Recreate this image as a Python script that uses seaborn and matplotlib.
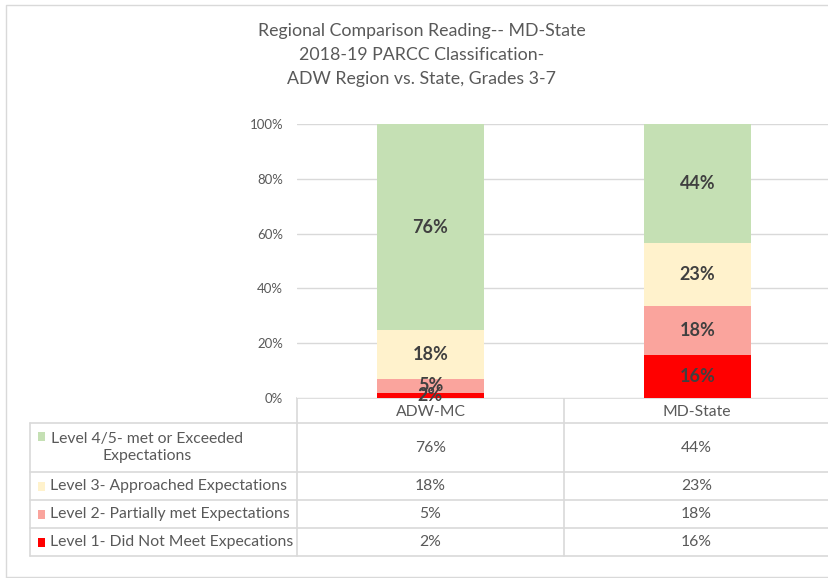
import numpy as np
import pandas as pd
import matplotlib
matplotlib.use("Agg")
import matplotlib.pyplot as plt
import seaborn as sns

# ---- data ----
categories = ["ADW-MC", "MD-State"]
levels = ["Level 4/5- met or Exceeded\nExpectations",
          "Level 3- Approached Expectations",
          "Level 2- Partially met Expectations",
          "Level 1- Did Not Meet Expecations"]
level45 = [76, 44]
level3 = [18, 23]
level2 = [5, 18]
level1 = [2, 16]
colors = ["#C5E0B4", "#FFF2CC", "#FAA49D", "#FF0000"]
title = "Regional Comparison Reading-- MD-State\n2018-19 PARCC Classification-\nADW Region vs. State, Grades 3-7"

sns.set_theme(style="white")
plt.rcParams['font.family'] = ['Lato', 'DejaVu Sans']

W, H = 829, 578
fig = plt.figure(figsize=(W / 100, H / 100), dpi=100)

# stacking (bottom to top: level1, level2, level3, level4/5), normalised to 100%
series_bottom_up = [level1, level2, level3, level45]
colors_bottom_up = colors[::-1]
vals = np.array(series_bottom_up, dtype=float)
totals = vals.sum(axis=0)
frac = vals / totals
cum = np.cumsum(frac, axis=0)

def px(x0, y0, x1, y1):
    return [x0 / W, 1 - y1 / H, (x1 - x0) / W, (y1 - y0) / H]

ax = fig.add_axes(px(297, 124, 831, 398))
# draw from the top layer down so lower layers overlay
for i in range(len(series_bottom_up) - 1, -1, -1):
    df = pd.DataFrame({"cat": categories, "val": cum[i]})
    sns.barplot(data=df, x="cat", y="val", color=colors_bottom_up[i], width=0.4,
                saturation=1, ax=ax, linewidth=0, zorder=3)

# data labels
for i, s in enumerate(series_bottom_up):
    for j, c in enumerate(categories):
        lo = cum[i - 1][j] if i > 0 else 0
        mid = (lo + cum[i][j]) / 2
        ax.text(j, mid, f"{s[j]}%", ha="center", va="center", fontsize=13,
                fontweight="bold", color="#404040", zorder=5)

ax.set_ylim(0, 1)
ax.set_xlim(-0.5, 1.5)
ax.set_yticks(np.arange(0, 1.01, 0.2))
ax.set_yticklabels([f"{int(round(t*100))}%" for t in np.arange(0, 1.01, 0.2)],
                   color="#595959", fontsize=9.5)
ax.tick_params(axis="y", length=0, pad=10)
ax.set_xticks([])
ax.set_xlabel("")
ax.set_ylabel("")
ax.grid(axis="y", color="#D9D9D9", linewidth=1, zorder=0)
ax.set_axisbelow(True)
for sp in ax.spines.values():
    sp.set_visible(False)

# ---- overlay for table, title, border ----
ov = fig.add_axes([0, 0, 1, 1], zorder=-1)
ov.set_xlim(0, W)
ov.set_ylim(H, 0)
ov.axis("off")
ov.patch.set_alpha(0)

# outer border
ov.plot([6, 6, 829], [577, 5, 5], color="#D9D9D9", lw=1)
ov.plot([6, 829], [577, 577], color="#D9D9D9", lw=1)

fig.text(422 / W, 1 - 23 / H, title, ha="center", va="top", color="#595959",
         fontsize=12.8, linespacing=1.6)

# table
line_c = "#D9D9D9"
row_y = [398, 423, 472, 500, 528, 556]
col_x = [30, 297, 564, 829]
ov.plot([297, 829], [row_y[0], row_y[0]], color=line_c, lw=1.2)
for y in row_y[1:]:
    ov.plot([30, 829], [y, y], color=line_c, lw=1.2)
ov.plot([30, 30], [row_y[1], row_y[-1]], color=line_c, lw=1.2)
ov.plot([297, 297], [row_y[0], row_y[-1]], color=line_c, lw=1.2)
ov.plot([564, 564], [row_y[0], row_y[-1]], color=line_c, lw=1.2)

tc = "#595959"
fs = 11.3
for j, c in enumerate(categories):
    ov.text((col_x[j + 1] + col_x[j + 2]) / 2, (row_y[0] + row_y[1]) / 2 + 1, c,
            ha="center", va="center", color=tc, fontsize=fs)

series_top_down = [level45, level3, level2, level1]
for r, (lab, s, col) in enumerate(zip(levels, series_top_down, colors)):
    yc = (row_y[r + 1] + row_y[r + 2]) / 2
    if "\n" in lab:
        ov.add_patch(plt.Rectangle((38, 432), 7, 9, color=col, lw=0))
        ov.text(147, yc, lab, ha="center", va="center", color=tc, fontsize=fs,
                multialignment="center", linespacing=1.3)
    else:
        ov.add_patch(plt.Rectangle((38, yc - 4.5), 7, 9, color=col, lw=0))
        ov.text(50, yc, lab, ha="left", va="center", color=tc, fontsize=fs)
    for j in range(len(categories)):
        ov.text((col_x[j + 1] + col_x[j + 2]) / 2, yc, f"{s[j]}%", ha="center",
                va="center", color=tc, fontsize=fs)

fig.savefig("out.png", dpi=100)
